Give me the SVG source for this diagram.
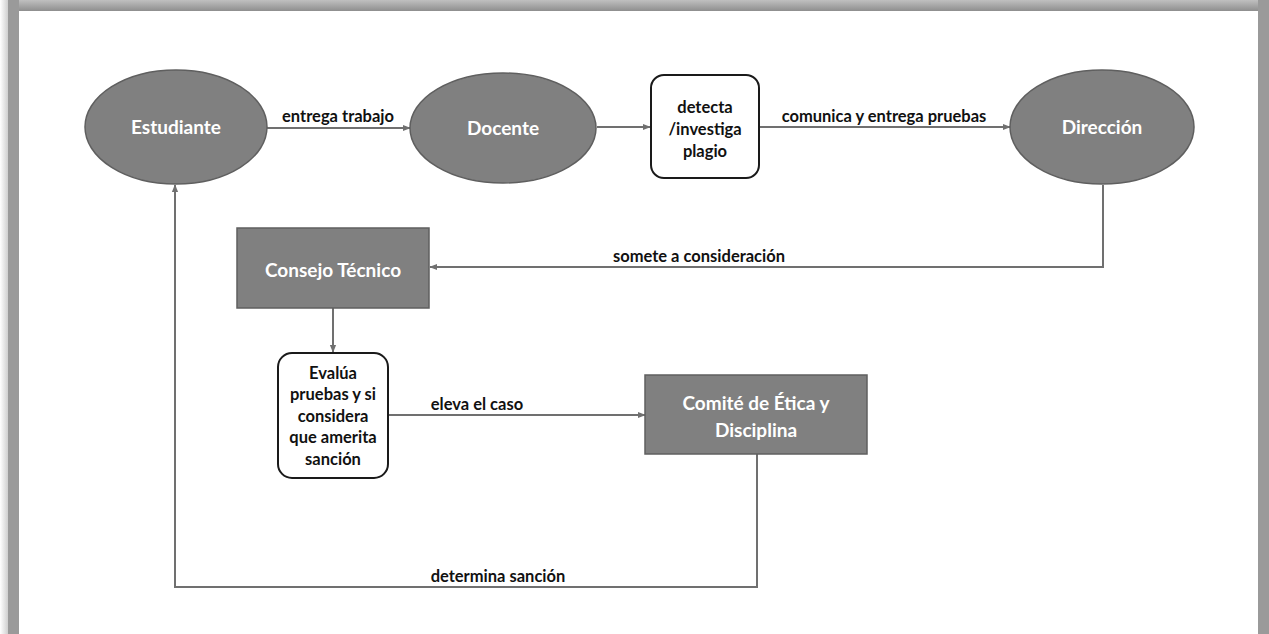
<svg xmlns="http://www.w3.org/2000/svg" width="1269" height="634" viewBox="0 0 1269 634">
<style>
.ell{fill:#808080;stroke:#5f5f5f;stroke-width:1.5}
.rect{fill:#808080;stroke:#5f5f5f;stroke-width:1.5}
.box{fill:#ffffff;stroke:#1a1a1a;stroke-width:2}
.wt{font-family:Lato,"Open Sans",sans-serif;font-weight:bold;font-size:19px;fill:#ffffff;text-anchor:middle}
.bt{font-family:Lato,"Open Sans",sans-serif;font-weight:bold;font-size:16.5px;fill:#111111;text-anchor:middle}
.lb{font-family:Lato,"Open Sans",sans-serif;font-weight:bold;font-size:16.5px;fill:#111111;text-anchor:middle}
.ln{fill:none;stroke:#707070;stroke-width:2}
</style>
<defs>
<marker id="ah" viewBox="0 0 10 10" refX="9" refY="5" markerWidth="8" markerHeight="8" orient="auto" markerUnits="userSpaceOnUse">
<path d="M0,1 L10,5 L0,9 z" fill="#707070"/>
</marker>
<linearGradient id="lg" x1="0" x2="1" y1="0" y2="0">
<stop offset="0" stop-color="#ffffff"/>
<stop offset="1" stop-color="#c8c8c8"/>
</linearGradient>
<linearGradient id="tg" x1="0" x2="0" y1="0" y2="1">
<stop offset="0" stop-color="#c0c0c0"/>
<stop offset="1" stop-color="#8e8e8e"/>
</linearGradient>
</defs>
<rect x="0" y="0" width="1269" height="634" fill="#ffffff"/>
<rect x="0" y="0" width="9" height="634" fill="url(#lg)"/>
<rect x="8" y="0" width="1261" height="11" fill="url(#tg)"/>
<rect x="8" y="0" width="11" height="634" fill="#9a9a9a"/>
<rect x="1258" y="0" width="11" height="634" fill="#9a9a9a"/>
<rect x="19" y="11" width="1239" height="623" fill="#ffffff"/>

<g id="connectors">
<line class="ln" x1="267" y1="128" x2="410" y2="128" marker-end="url(#ah)"/>
<text class="lb" x="338" y="122">entrega trabajo</text>
<line class="ln" x1="597" y1="127" x2="650" y2="127" marker-end="url(#ah)"/>
<line class="ln" x1="759" y1="127" x2="1010" y2="127" marker-end="url(#ah)"/>
<text class="lb" x="884" y="122">comunica y entrega pruebas</text>
<polyline class="ln" points="1103,185 1103,267 430,267" marker-end="url(#ah)"/>
<text class="lb" x="699" y="262">somete a consideración</text>
<line class="ln" x1="333" y1="308" x2="333" y2="352" marker-end="url(#ah)"/>
<line class="ln" x1="388" y1="415" x2="645" y2="415" marker-end="url(#ah)"/>
<text class="lb" x="477" y="410">eleva el caso</text>
<polyline class="ln" points="757,454 757,587 175,587 175,185" marker-end="url(#ah)"/>
<text class="lb" x="498" y="582">determina sanción</text>
</g>

<g id="estudiante">
<ellipse class="ell" cx="176" cy="127" rx="91" ry="57"/>
<text class="wt" x="176" y="134">Estudiante</text>
</g>
<g id="docente">
<ellipse class="ell" cx="503" cy="128" rx="93" ry="55"/>
<text class="wt" x="503" y="135">Docente</text>
</g>
<g id="detecta">
<rect class="box" x="651" y="75" width="108" height="103" rx="13"/>
<text class="bt" x="705" y="113">detecta</text>
<text class="bt" x="705" y="135">/investiga</text>
<text class="bt" x="705" y="157">plagio</text>
</g>
<g id="direccion">
<ellipse class="ell" cx="1102" cy="127" rx="92" ry="57"/>
<text class="wt" x="1102" y="134">Dirección</text>
</g>
<g id="consejo">
<rect class="rect" x="237" y="228" width="192" height="80"/>
<text class="wt" x="333" y="277">Consejo Técnico</text>
</g>
<g id="evalua">
<rect class="box" x="278" y="353" width="110" height="125" rx="14"/>
<text class="bt" x="333" y="379">Evalúa</text>
<text class="bt" x="333" y="400">pruebas y si</text>
<text class="bt" x="333" y="422">considera</text>
<text class="bt" x="333" y="443">que amerita</text>
<text class="bt" x="333" y="465">sanción</text>
</g>
<g id="comite">
<rect class="rect" x="645" y="375" width="222" height="79"/>
<text class="wt" x="756" y="410">Comité de Ética y</text>
<text class="wt" x="756" y="437">Disciplina</text>
</g>
</svg>
